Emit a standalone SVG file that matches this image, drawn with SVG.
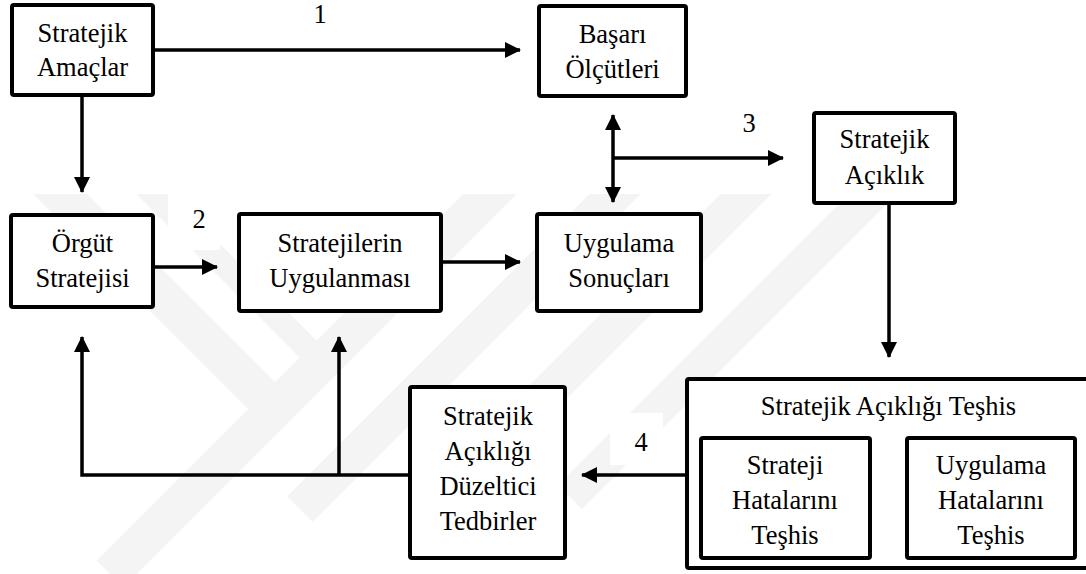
<svg xmlns="http://www.w3.org/2000/svg" width="1086" height="574" viewBox="0 0 1086 574">
  <style>
    .box { fill: #ffffff; stroke: #000000; stroke-width: 4; }
    .lbl { font-family: "Liberation Serif", "Times New Roman", serif; font-size: 26.5px; fill: #000000; text-anchor: middle; }
    .link { fill: none; stroke: #000000; stroke-width: 3.5; }
    .mark { fill: none; stroke: #f4f4f4; stroke-linejoin: miter; }
  </style>
  <defs>
    <marker id="arrow" markerUnits="userSpaceOnUse" markerWidth="16" markerHeight="16" refX="15" refY="8" orient="auto-start-reverse">
      <path d="M0,0 L16,8 L0,16 Z" fill="#000000"/>
    </marker>
    <clipPath id="markClip">
      <rect x="0" y="194" width="1086" height="380"/>
    </clipPath>
  </defs>

  <rect x="0" y="0" width="1086" height="574" fill="#ffffff"/>

  <!-- faint background emblem -->
  <g id="emblem" clip-path="url(#markClip)">
    <path class="mark" stroke-width="38" d="M20,154 L275,409 L530,154"/>
    <path class="mark" stroke-width="38" d="M275,409 L110,574"/>
    <path class="mark" stroke-width="24" d="M113,154 L320,361"/>
    <path class="mark" stroke-width="36" d="M655,154 L300,509"/>
    <path class="mark" stroke-width="36" d="M786,154 L420,520"/>
    <path class="mark" stroke-width="34" d="M913,154 L570,497"/>
  </g>

  <!-- white patches behind the step numbers -->
  <rect x="168" y="192" width="52" height="58" fill="#ffffff"/>
  <rect x="610" y="413" width="53" height="52" fill="#ffffff"/>

  <!-- connectors and step numbers -->
  <g id="connectors">
    <line class="link" x1="155" y1="50" x2="520" y2="50" marker-end="url(#arrow)"/>
    <line class="link" x1="82" y1="97" x2="82" y2="192" marker-end="url(#arrow)"/>
    <line class="link" x1="613" y1="115" x2="613" y2="202" marker-start="url(#arrow)" marker-end="url(#arrow)"/>
    <line class="link" x1="613" y1="158" x2="783" y2="158" marker-end="url(#arrow)"/>
    <line class="link" x1="889" y1="205" x2="889" y2="357" marker-end="url(#arrow)"/>
    <line class="link" x1="155" y1="267" x2="217" y2="267" marker-end="url(#arrow)"/>
    <line class="link" x1="443" y1="262" x2="520" y2="262" marker-end="url(#arrow)"/>
    <polyline class="link" points="408,475 82,475 82,337" marker-end="url(#arrow)"/>
    <line class="link" x1="339" y1="475" x2="339" y2="337" marker-end="url(#arrow)"/>
    <line class="link" x1="685" y1="475" x2="582" y2="475" marker-end="url(#arrow)"/>
    <text class="lbl" x="320" y="23">1</text>
    <text class="lbl" x="199" y="228">2</text>
    <text class="lbl" x="749" y="132">3</text>
    <text class="lbl" x="641" y="451">4</text>
  </g>

  <g id="stratejik-amaclar">
    <rect class="box" x="12" y="5" width="141" height="90" rx="2"/>
    <text class="lbl" x="82.5" y="42">Stratejik</text>
    <text class="lbl" x="82.5" y="76">Amaçlar</text>
  </g>

  <g id="basari-olcutleri">
    <rect class="box" x="539" y="6" width="147" height="90" rx="2"/>
    <text class="lbl" x="612.5" y="43">Başarı</text>
    <text class="lbl" x="612.5" y="78">Ölçütleri</text>
  </g>

  <g id="stratejik-aciklik">
    <rect class="box" x="814" y="113" width="141" height="90" rx="2"/>
    <text class="lbl" x="884.5" y="148">Stratejik</text>
    <text class="lbl" x="884.5" y="184">Açıklık</text>
  </g>

  <g id="orgut-stratejisi">
    <rect class="box" x="11" y="215" width="142" height="92" rx="2"/>
    <text class="lbl" x="82.5" y="252">Örgüt</text>
    <text class="lbl" x="82.5" y="287">Stratejisi</text>
  </g>

  <g id="stratejilerin-uygulanmasi">
    <rect class="box" x="239" y="214" width="202" height="97" rx="2"/>
    <text class="lbl" x="340" y="252">Stratejilerin</text>
    <text class="lbl" x="340" y="287">Uygulanması</text>
  </g>

  <g id="uygulama-sonuclari">
    <rect class="box" x="537" y="214" width="164" height="97" rx="2"/>
    <text class="lbl" x="619" y="252">Uygulama</text>
    <text class="lbl" x="619" y="287">Sonuçları</text>
  </g>

  <g id="duzeltici-tedbirler">
    <rect class="box" x="410" y="387" width="155" height="171" rx="2"/>
    <text class="lbl" x="488" y="425">Stratejik</text>
    <text class="lbl" x="488" y="460">Açıklığı</text>
    <text class="lbl" x="488" y="495">Düzeltici</text>
    <text class="lbl" x="488" y="530">Tedbirler</text>
  </g>

  <!-- outer diagnosis frame runs past the right edge -->
  <g id="aciklik-teshis">
    <rect class="box" x="687" y="379" width="410" height="189" rx="2"/>
    <text class="lbl" x="888.5" y="415">Stratejik Açıklığı Teşhis</text>
  </g>

  <g id="strateji-hatalari">
    <rect class="box" x="701" y="438" width="169" height="120" rx="2"/>
    <text class="lbl" x="785" y="474">Strateji</text>
    <text class="lbl" x="785" y="509">Hatalarını</text>
    <text class="lbl" x="785" y="544">Teşhis</text>
  </g>

  <g id="uygulama-hatalari">
    <rect class="box" x="907" y="438" width="168" height="120" rx="2"/>
    <text class="lbl" x="991" y="474">Uygulama</text>
    <text class="lbl" x="991" y="509">Hatalarını</text>
    <text class="lbl" x="991" y="544">Teşhis</text>
  </g>
</svg>
